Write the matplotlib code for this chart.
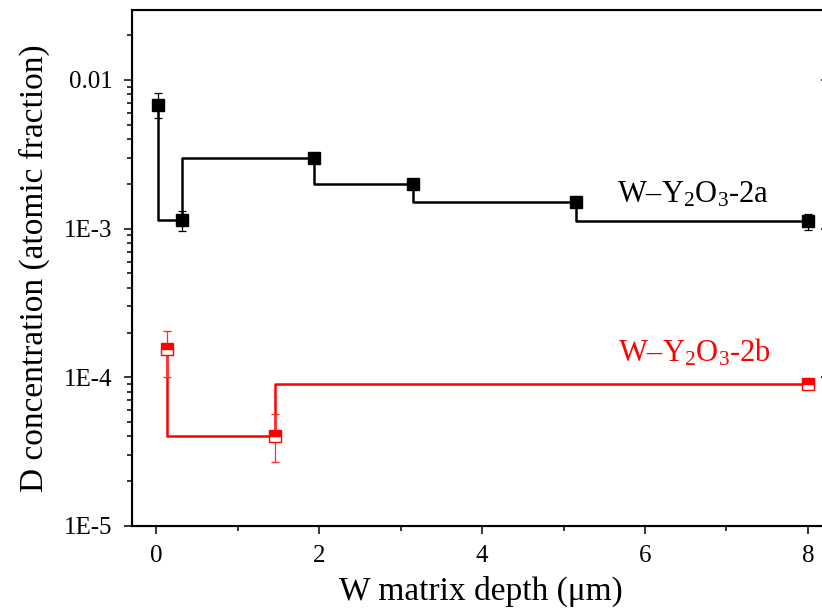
import matplotlib
matplotlib.use('Agg')
import matplotlib.pyplot as plt
from matplotlib.ticker import FixedLocator, FixedFormatter, LogLocator, NullFormatter, MultipleLocator

plt.rcParams['font.family'] = ['Liberation Serif', 'DejaVu Serif']
plt.rcParams['mathtext.fontset'] = 'custom'
plt.rcParams['mathtext.rm'] = 'Liberation Serif'
plt.rcParams['mathtext.it'] = 'Liberation Serif:italic'

# W-Y2O3-2a: depth (um), D concentration, lower/upper error
depth_2a = [0.025, 0.32, 1.94, 3.15, 5.15, 8.0]
conc_2a = [6.8e-3, 1.14e-3, 3.0e-3, 2.0e-3, 1.5e-3, 1.12e-3]
err_lo_2a = [1.3e-3, 0.18e-3, 0.0, 0.0, 0.0, 0.14e-3]
err_hi_2a = [1.4e-3, 0.17e-3, 0.0, 0.0, 0.0, 0.14e-3]

# W-Y2O3-2b
depth_2b = [0.13, 1.46, 8.0]
conc_2b = [1.54e-4, 4.0e-5, 9.0e-5]
err_lo_2b = [0.54e-4, 1.3e-5, 0.5e-5]
err_hi_2b = [0.52e-4, 1.66e-5, 0.5e-5]

y_major = [1e-5, 1e-4, 1e-3, 1e-2]
y_labels = ['1E-5', '1E-4', '1E-3', '0.01']
x_major = [0, 2, 4, 6, 8]

fig = plt.figure(figsize=(8.22, 6.16), dpi=100)
ax = fig.add_axes([132 / 822, 90 / 616, 697 / 822, 516 / 616])

# step profiles
ax.step(depth_2a, conc_2a, where='pre', color='black', lw=1.8, zorder=2)
ax.step(depth_2b, conc_2b, where='pre', color='#ff0000', lw=1.8, zorder=2)

# points with error bars
ax.errorbar(depth_2a, conc_2a, yerr=[err_lo_2a, err_hi_2a], fmt='s', color='black',
            ms=8, ecolor='black', elinewidth=0.9, capsize=3, capthick=0.9, zorder=3)
ax.errorbar(depth_2b, conc_2b, yerr=[err_lo_2b, err_hi_2b], fmt='s', color='#ff0000',
            ms=8, fillstyle='top', markerfacecoloralt='white', mec='#ff0000', mew=1.0,
            ecolor='#ff3030', elinewidth=0.9, capsize=3, capthick=0.9, zorder=3)

ax.text(5.66, 1.49e-3, r'W–Y$_2$O$_3$-2a', fontsize=22, color='black', va='baseline')
ax.text(5.67, 1.28e-4, r'W–Y$_2$O$_3$-2b', fontsize=22, color='#ff0000', va='baseline')

ax.set_yscale('log')
ax.set_xlim(-0.3, 8.26)
ax.set_ylim(1e-5, 0.0295)

ax.yaxis.set_major_locator(FixedLocator(y_major))
ax.yaxis.set_major_formatter(FixedFormatter(y_labels))
ax.yaxis.set_minor_locator(LogLocator(base=10, subs=range(2, 10)))
ax.yaxis.set_minor_formatter(NullFormatter())
ax.xaxis.set_major_locator(FixedLocator(x_major))
ax.xaxis.set_minor_locator(MultipleLocator(1))

for side in ax.spines.values():
    side.set_linewidth(1.5)

ax.tick_params(which='major', direction='out', length=6, width=1.1, labelsize=18, pad=8)
ax.tick_params(which='minor', direction='out', length=3.5, width=1.1)
ax.tick_params(top=False, right=False)

# inward ticks on the right edge
rax = ax.twinx()
rax.set_yscale('log')
rax.set_ylim(ax.get_ylim())
rax.yaxis.set_major_locator(FixedLocator(y_major))
rax.yaxis.set_minor_locator(LogLocator(base=10, subs=range(2, 10)))
rax.tick_params(which='both', direction='in', labelright=False, width=1.1)
rax.tick_params(which='major', length=6)
rax.tick_params(which='minor', length=3.5)

ax.set_xlabel('W matrix depth (μm)', fontsize=24, labelpad=6)
ax.set_ylabel('D concentration (atomic fraction)', fontsize=24, labelpad=10)

fig.savefig('out.png', dpi=100)
